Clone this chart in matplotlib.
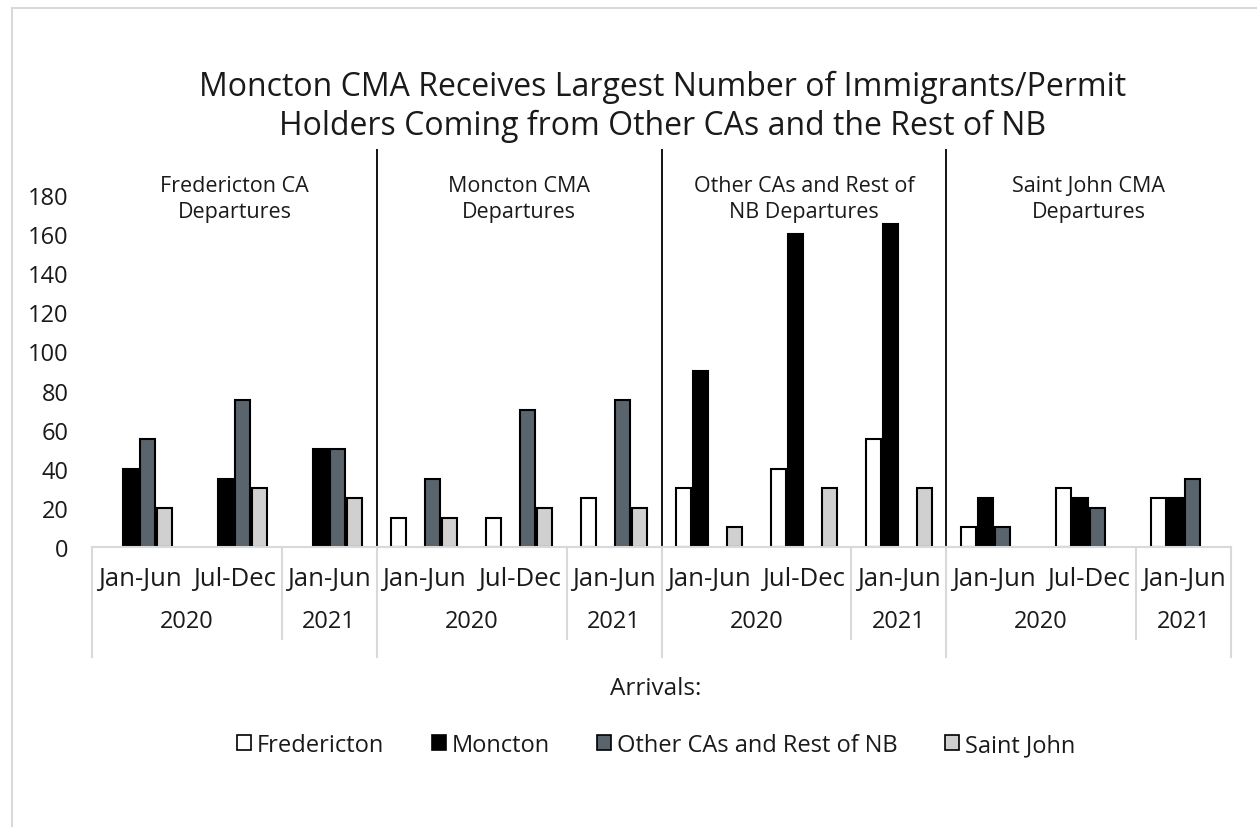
import numpy as np
import matplotlib
matplotlib.use("Agg")
import matplotlib.pyplot as plt
from matplotlib.patches import Patch
from matplotlib.lines import Line2D

plt.rcParams["font.family"] = ["Open Sans", "DejaVu Sans"]

# Data
groups = ["Fredericton CA\nDepartures", "Moncton CMA\nDepartures",
          "Other CAs and Rest of\nNB Departures", "Saint John CMA\nDepartures"]
periods = ["Jan-Jun", "Jul-Dec", "Jan-Jun"]
years = ["2020", "2021"]
series = ["Fredericton", "Moncton", "Other CAs and Rest of NB", "Saint John"]

fredericton = [0, 0, 0, 15, 15, 25, 30, 40, 55, 10, 30, 25]
moncton = [40, 35, 50, 0, 0, 0, 90, 160, 165, 25, 25, 25]
other = [55, 75, 50, 35, 70, 75, 0, 0, 0, 10, 20, 35]
saint_john = [20, 30, 25, 15, 20, 20, 10, 30, 30, 0, 0, 0]

colors = ["white", "black", "#59646d", "#d0d0d0"]
text_col = "#1a1a1a"
grid_col = "#d9d9d9"

fig = plt.figure(figsize=(12.57, 8.28), dpi=100)
ax = fig.add_axes([92 / 1257, 1 - 548 / 828, (1231 - 92) / 1257, 398 / 828])

n_cat = len(groups) * len(periods)
x = np.arange(n_cat)
step, width = 0.179, 0.158
for k, (vals, col) in enumerate(zip([fredericton, moncton, other, saint_john], colors)):
    for i, v in enumerate(vals):
        if v > 0:
            ax.bar(x[i] + (k - 1.5) * step, v, width, color=col,
                   edgecolor="black", linewidth=1.5)

ax.set_xlim(-0.5, n_cat - 0.5)
ax.set_ylim(0, 203.5)
ax.set_yticks(np.arange(0, 181, 20))
ax.tick_params(axis="y", length=0, labelsize=17, labelcolor=text_col, pad=17)
ax.set_xticks([])
for s in ["top", "right", "left"]:
    ax.spines[s].set_visible(False)
ax.spines["bottom"].set_color(grid_col)
ax.spines["bottom"].set_linewidth(1.5)

# group divider lines
ax.vlines([2.5, 5.5, 8.5], -3.6, 203.5, color="black", linewidth=1.3, clip_on=False)

# group labels inside the plot
for g, label in enumerate(groups):
    ax.text(g * 3 + 1, 178, label, ha="center", va="center",
            fontsize=15.5, color=text_col, linespacing=1.3)

# multi-level category axis
tr = ax.get_xaxis_transform()
for i in range(n_cat):
    ax.text(i, -0.08, periods[i % 3], transform=tr, ha="center", va="center",
            fontsize=18.5, color=text_col, clip_on=False)
for g in range(len(groups)):
    ax.text(g * 3 + 0.5, -0.186, years[0], transform=tr, ha="center", va="center",
            fontsize=17, color=text_col)
    ax.text(g * 3 + 2, -0.186, years[1], transform=tr, ha="center", va="center",
            fontsize=17, color=text_col)
    ax.plot([g * 3 - 0.5] * 2, [0, -0.276], transform=tr, color=grid_col,
            linewidth=1.5, clip_on=False)
    ax.plot([g * 3 + 1.5] * 2, [0, -0.231], transform=tr, color=grid_col,
            linewidth=1.5, clip_on=False)
ax.plot([n_cat - 0.5] * 2, [0, -0.276], transform=tr, color=grid_col,
        linewidth=1.5, clip_on=False)

fig.text(0.527, 1 - 107 / 828,
         "Moncton CMA Receives Largest Number of Immigrants/Permit\n"
         "Holders Coming from Other CAs and the Rest of NB",
         ha="center", va="center", fontsize=23, color=text_col, linespacing=1.2)

fig.text(0.522, 1 - 689 / 828, "Arrivals:", ha="center", va="center",
         fontsize=17.5, color=text_col)

handles = [Patch(facecolor=c, edgecolor="black", linewidth=1.2) for c in colors]
fig.legend(handles, series, loc="center", bbox_to_anchor=(0.522, 1 - 746 / 828),
           ncol=4, frameon=False, fontsize=17, handlelength=0.6, handleheight=0.6,
           handletextpad=0.25, columnspacing=2.0, labelcolor=text_col)

# chart area border (top and left edges visible)
fig.add_artist(Line2D([11.5 / 1257, 1], [1 - 8.5 / 828] * 2, color=grid_col, linewidth=1.5))
fig.add_artist(Line2D([11.5 / 1257] * 2, [0, 1 - 8.5 / 828], color=grid_col, linewidth=1.5))

fig.savefig("out.png", dpi=100, facecolor="white")
